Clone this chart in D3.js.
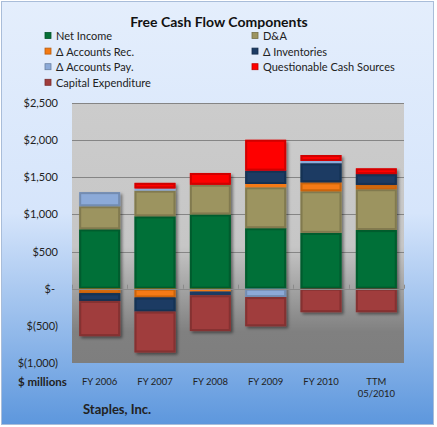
<!DOCTYPE html>
<html>
<head>
<meta charset="utf-8">
<script src="https://cdn.jsdelivr.net/npm/d3@7"></script>
<style>
  body { margin: 0; background: #fff; }
  svg { display: block; font-family: Lato, "Open Sans", sans-serif; }
</style>
</head>
<body>
<svg id="chart" width="437" height="427"></svg>
<script>
// Data ($ millions)
const categories = ["FY 2006", "FY 2007", "FY 2008", "FY 2009", "FY 2010", "TTM\n05/2010"];
const netIncome    = [800, 975, 1000, 815, 752, 790];
const dna          = [310, 345, 400, 550, 560, 550];
const accountsRec  = [-60, -118, -38, 45, 120, 58];
const inventories  = [-105, -190, -50, 180, 257, 145];
const accountsPay  = [190, 30, 0, -113, 31, 0];
const questionable = [0, 75, 158, 415, 80, 77];
const capex        = [-473, -550, -482, -392, -316, -316];
const yTicks = [2500, 2000, 1500, 1000, 500, 0, -500, -1000];

const series = [
  { key: "Net Income", values: netIncome, color: "#046f37" },
  { key: "D&A", values: dna, color: "#9c9460" },
  { key: "\u0394 Accounts Rec.", values: accountsRec, color: "#f47a12" },
  { key: "\u0394 Inventories", values: inventories, color: "#1b3b64" },
  { key: "\u0394 Accounts Pay.", values: accountsPay, color: "#8caad8" },
  { key: "Questionable Cash Sources", values: questionable, color: "#fe0000" },
  { key: "Capital Expenditure", values: capex, color: "#a03c3c" }
];

const svg = d3.select("#chart");
const W = 437, H = 427;
const plot = { left: 72, right: 404, top: 103, bottom: 363 };

// Backgrounds
const defs = svg.append("defs");
const bg = defs.append("linearGradient").attr("id", "bg").attr("x1", 0).attr("y1", 0).attr("x2", 0).attr("y2", 1);
bg.append("stop").attr("offset", 0).attr("stop-color", "#e4eefc");
bg.append("stop").attr("offset", 0.5).attr("stop-color", "#d6e5fb");
bg.append("stop").attr("offset", 1).attr("stop-color", "#5d97dd");
const pg = defs.append("linearGradient").attr("id", "pg").attr("x1", 0).attr("y1", 0).attr("x2", 0).attr("y2", 1);
pg.append("stop").attr("offset", 0).attr("stop-color", "#cccccc");
pg.append("stop").attr("offset", 0.55).attr("stop-color", "#c6c6c6");
pg.append("stop").attr("offset", 0.88).attr("stop-color", "#808080");
pg.append("stop").attr("offset", 1).attr("stop-color", "#7e7e7e");
const shadow = defs.append("filter").attr("id", "shadow").attr("x", "-20%").attr("y", "-20%").attr("width", "140%").attr("height", "140%");
shadow.append("feDropShadow").attr("dx", 2).attr("dy", 2).attr("stdDeviation", 1.5)
  .attr("flood-color", "#000").attr("flood-opacity", 0.45);

svg.append("rect").attr("x", 1.5).attr("y", 1.5).attr("width", W - 5).attr("height", H - 4)
  .attr("fill", "url(#bg)").attr("stroke", "#a9bdd9");

svg.append("rect").attr("x", plot.left).attr("y", plot.top)
  .attr("width", plot.right - plot.left).attr("height", plot.bottom - plot.top)
  .attr("fill", "url(#pg)");

// Scales
const x = d3.scaleBand().domain(categories).range([plot.left, plot.right])
  .paddingInner(0.26).paddingOuter(0.13);
const y = d3.scaleLinear().domain([-1000, 2500]).range([plot.bottom, plot.top]);

// Gridlines
svg.append("g").selectAll("line").data(yTicks.filter(d => d !== 0 && d !== -1000)).join("line")
  .attr("x1", plot.left).attr("x2", plot.right)
  .attr("y1", d => Math.round(y(d)) + 0.5).attr("y2", d => Math.round(y(d)) + 0.5)
  .attr("stroke", "#858585");

// Y axis labels
svg.append("g").selectAll("text").data(yTicks).join("text")
  .attr("x", d => d === 0 ? 55 : 58).attr("y", d => y(d) + 4)
  .attr("text-anchor", "end").attr("font-size", 11).attr("fill", "#222")
  .text(d => d === 0 ? "$-" : d < 0 ? `$(${d3.format(",")(-d)})` : `$${d3.format(",")(d)}`);

// Stacked bars
const rows = categories.map((c, i) => {
  const r = { cat: c };
  series.forEach(s => r[s.key] = s.values[i]);
  return r;
});
const stack = d3.stack().keys(series.map(s => s.key)).offset(d3.stackOffsetDiverging)(rows);

const bars = svg.append("g").attr("filter", "url(#shadow)");
stack.forEach((layer, li) => {
  const col = series[li].color;
  const g = bars.append("g");
  const segs = layer.filter(d => d[1] - d[0] !== 0);
  g.selectAll("rect.fill").data(segs).join("rect")
    .attr("class", "fill")
    .attr("x", d => x(d.data.cat)).attr("width", x.bandwidth())
    .attr("y", d => y(d[1])).attr("height", d => y(d[0]) - y(d[1]))
    .attr("fill", col);
  g.selectAll("rect.bevel").data(segs.filter(d => y(d[0]) - y(d[1]) > 4)).join("rect")
    .attr("class", "bevel")
    .attr("x", d => x(d.data.cat) + 1).attr("width", x.bandwidth() - 2)
    .attr("y", d => y(d[1]) + 1).attr("height", d => y(d[0]) - y(d[1]) - 2)
    .attr("fill", "none").attr("stroke", d3.color(col).darker(0.7)).attr("stroke-width", 2)
    .attr("stroke-opacity", 0.8);
});

// Zero line and category ticks
svg.append("line").attr("x1", plot.left).attr("x2", plot.right)
  .attr("y1", Math.round(y(0)) + 0.5).attr("y2", Math.round(y(0)) + 0.5)
  .attr("stroke", "#8a8a8a");
const step = x.step();
svg.append("g").selectAll("line").data(d3.range(categories.length + 1)).join("line")
  .attr("x1", i => Math.round(plot.left + i * (plot.right - plot.left) / categories.length) + 0.5)
  .attr("x2", i => Math.round(plot.left + i * (plot.right - plot.left) / categories.length) + 0.5)
  .attr("y1", y(0) - 4).attr("y2", y(0))
  .attr("stroke", "#8a8a8a");

// X labels
svg.append("g").selectAll("text").data(categories).join("text")
  .attr("x", d => x(d) + x.bandwidth() / 2).attr("y", 385)
  .attr("text-anchor", "middle").attr("font-size", 9.5).attr("fill", "#222")
  .each(function (d) {
    d.split("\n").forEach((t, i) => {
      d3.select(this).append("tspan").attr("x", x(d) + x.bandwidth() / 2)
        .attr("dy", i === 0 ? 0 : 12).text(t);
    });
  });

svg.append("text").attr("x", 18).attr("y", 386).attr("font-size", 11.5)
  .attr("font-weight", "bold").attr("fill", "#222").text("$ millions");

svg.append("text").attr("x", 83).attr("y", 414).attr("font-size", 13)
  .attr("font-weight", "bold").attr("fill", "#222").text("Staples, Inc.");

// Title
svg.append("text").attr("x", 219).attr("y", 27).attr("text-anchor", "middle")
  .attr("font-size", 14).attr("font-weight", "bold").attr("fill", "#111")
  .text("Free Cash Flow Components");

// Legend (two columns)
const legendOrder = [0, 1, 2, 3, 4, 5, 6];
const legend = svg.append("g");
legendOrder.forEach((si, i) => {
  const col = i % 2, row = Math.floor(i / 2);
  const lx = col === 0 ? 45 : 252;
  const ly = 36 + row * 15.6;
  const s = series[si];
  legend.append("rect").attr("x", lx).attr("y", ly - 3.5).attr("width", 6).attr("height", 6)
    .attr("fill", s.color).attr("stroke", d3.color(s.color).darker(0.8)).attr("stroke-width", 0.8);
  legend.append("text").attr("x", lx + 11).attr("y", ly + 4).attr("font-size", 11)
    .attr("fill", "#222").text(s.key);
});
</script>
</body>
</html>
